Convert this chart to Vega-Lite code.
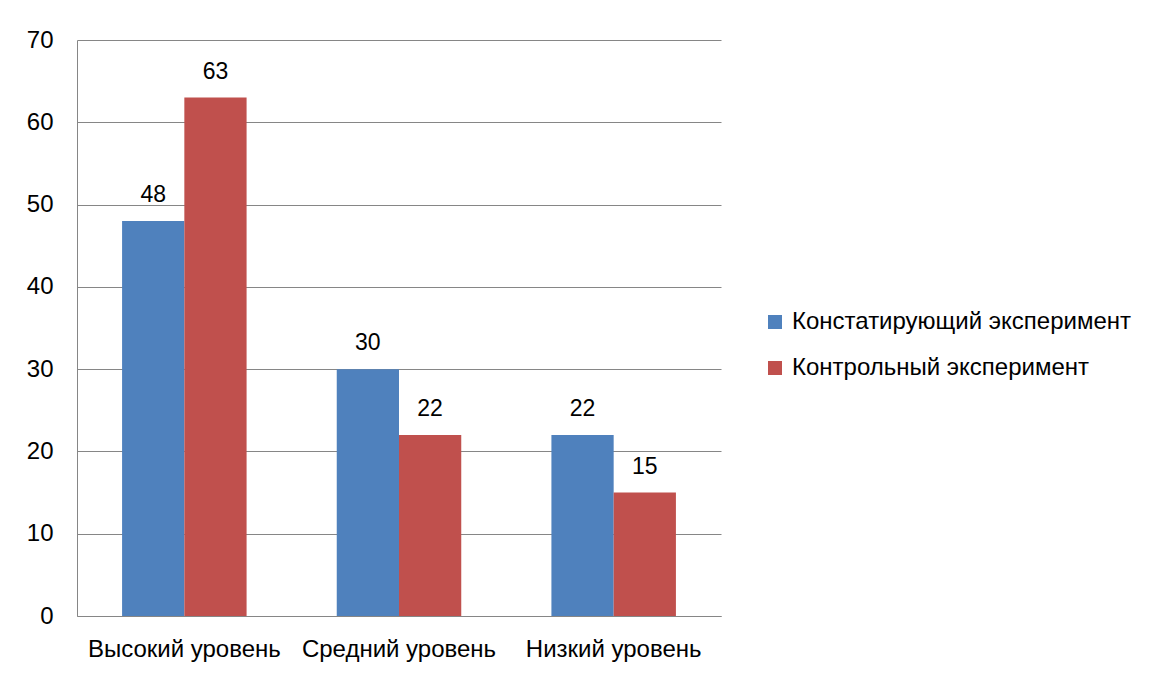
{
  "$schema": "https://vega.github.io/schema/vega-lite/v6.json",
  "width": 644,
  "height": 576,
  "autosize": {"type": "none"},
  "padding": {"left": 77, "top": 40, "right": 439, "bottom": 61},
  "background": "white",
  "config": {
    "font": "Liberation Sans",
    "view": {"stroke": null},
    "axis": {"labelFont": "Liberation Sans", "labelFontSize": 24, "labelColor": "black"}
  },
  "data": {
    "values": [
      {"level": "Высокий уровень", "series": "Констатирующий эксперимент", "value": 48},
      {"level": "Высокий уровень", "series": "Контрольный эксперимент", "value": 63},
      {"level": "Средний уровень", "series": "Констатирующий эксперимент", "value": 30},
      {"level": "Средний уровень", "series": "Контрольный эксперимент", "value": 22},
      {"level": "Низкий уровень", "series": "Констатирующий эксперимент", "value": 22},
      {"level": "Низкий уровень", "series": "Контрольный эксперимент", "value": 15}
    ]
  },
  "encoding": {
    "x": {
      "field": "level", "type": "nominal", "sort": null,
      "scale": {"paddingInner": 0.42, "paddingOuter": 0.21},
      "axis": {"title": null, "labelAngle": 0, "ticks": false, "domainColor": "#868686", "labelPadding": 21, "grid": false, "labelLimit": 300}
    },
    "xOffset": {"field": "series", "type": "nominal", "sort": ["Констатирующий эксперимент", "Контрольный эксперимент"]},
    "y": {
      "field": "value", "type": "quantitative",
      "scale": {"domain": [0, 70]},
      "axis": {"title": null, "values": [0,10,20,30,40,50,60,70], "ticks": false, "domainColor": "#868686", "gridColor": "#868686", "labelPadding": 24}
    }
  },
  "layer": [
    {
      "mark": {"type": "bar"},
      "encoding": {
        "color": {
          "field": "series", "type": "nominal",
          "sort": ["Констатирующий эксперимент", "Контрольный эксперимент"],
          "scale": {"range": ["#4F81BD", "#C0504D"]},
          "legend": {
            "title": null, "orient": "none", "legendX": 686, "legendY": 270,
            "symbolType": "square", "symbolSize": 196, "symbolStrokeWidth": 0,
            "labelFontSize": 24, "labelFont": "Liberation Sans", "labelColor": "black",
            "labelLimit": 500, "rowPadding": 22, "labelOffset": 5
          }
        }
      }
    },
    {
      "mark": {"type": "text", "baseline": "bottom", "dy": -14, "fontSize": 23, "color": "black"},
      "encoding": {"text": {"field": "value", "type": "quantitative"}}
    }
  ]
}
